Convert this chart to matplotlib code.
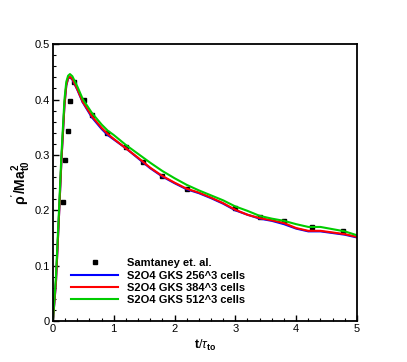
import matplotlib
matplotlib.use('agg')
import matplotlib.pyplot as plt
from matplotlib.ticker import MultipleLocator

# Samtaney et al. reference points
ref_t = [0.16, 0.20, 0.25, 0.28, 0.35, 0.51, 0.64, 0.89, 1.2, 1.48, 1.79, 2.2, 2.99, 3.4, 3.8, 4.26, 4.77]
ref_rho = [0.215, 0.290, 0.343, 0.397, 0.431, 0.399, 0.373, 0.339, 0.315, 0.287, 0.262, 0.238, 0.204, 0.188, 0.180, 0.170, 0.162]

# GKS curves
t = [0.0, 0.05, 0.1, 0.14, 0.19, 0.22, 0.25, 0.28, 0.32, 0.4, 0.49, 0.64, 0.8, 0.9, 1.0, 1.2, 1.4, 1.6,
     1.8, 2.0, 2.2, 2.4, 2.6, 2.8, 3.0, 3.2, 3.4, 3.6, 3.8, 4.0, 4.2, 4.4, 4.6, 4.8, 5.0]
rho_256 = [0.0, 0.07, 0.19, 0.29, 0.39, 0.425, 0.438, 0.440, 0.436, 0.418, 0.395, 0.368, 0.347, 0.336, 0.328,
           0.312, 0.294, 0.276, 0.261, 0.249, 0.238, 0.231, 0.222, 0.212, 0.200, 0.192, 0.185, 0.181, 0.175,
           0.167, 0.162, 0.162, 0.159, 0.156, 0.151]
rho_384 = [0.0, 0.07, 0.19, 0.29, 0.39, 0.426, 0.439, 0.441, 0.437, 0.419, 0.396, 0.370, 0.349, 0.338, 0.329,
           0.312, 0.295, 0.277, 0.262, 0.250, 0.239, 0.232, 0.223, 0.213, 0.201, 0.192, 0.186, 0.182, 0.177,
           0.168, 0.163, 0.163, 0.160, 0.157, 0.152]
rho_512 = [0.0, 0.08, 0.20, 0.30, 0.40, 0.432, 0.443, 0.446, 0.442, 0.424, 0.401, 0.376, 0.355, 0.344, 0.336,
           0.318, 0.302, 0.286, 0.271, 0.258, 0.246, 0.236, 0.227, 0.218, 0.207, 0.199, 0.190, 0.185, 0.181,
           0.175, 0.170, 0.170, 0.166, 0.162, 0.155]

plt.rcParams['font.family'] = ['Liberation Sans', 'DejaVu Sans']
plt.rcParams['mathtext.fontset'] = 'custom'
plt.rcParams['mathtext.rm'] = 'Liberation Sans'
plt.rcParams['mathtext.bf'] = 'Liberation Sans:bold'
plt.rcParams['mathtext.it'] = 'Liberation Sans:italic'

fig = plt.figure(figsize=(4.07, 3.62), dpi=100)
ax = fig.add_axes([0.130, 0.113, 0.747, 0.765])

ax.plot(ref_t, ref_rho, 's', color='black', markersize=3.5, label='Samtaney et. al.')
ax.plot(t, rho_256, color='#0000ff', lw=1.5, label='S2O4 GKS 256^3 cells')
ax.plot(t, rho_384, color='#ff0000', lw=1.5, label='S2O4 GKS 384^3 cells')
ax.plot(t, rho_512, color='#00cc00', lw=1.5, label='S2O4 GKS 512^3 cells')

ax.set_xlim(0, 5)
ax.set_ylim(0, 0.5)
ax.xaxis.set_major_locator(MultipleLocator(1))
ax.xaxis.set_minor_locator(MultipleLocator(0.2))
ax.yaxis.set_minor_locator(MultipleLocator(0.02))
ax.set_yticks([0, 0.1, 0.2, 0.3, 0.4, 0.5])
ax.set_yticklabels(['0', '0.1', '0.2', '0.3', '0.4', '0.5'])
ax.tick_params(which='both', direction='in', top=False, right=False, labelsize=8)
ax.tick_params(which='major', length=4, width=1, pad=2)
ax.tick_params(which='minor', length=2, width=0.8)
for s in ax.spines.values():
    s.set_linewidth(1.3)

ax.set_xlabel(r'$\mathbf{t}/\tau_{\mathbf{to}}$', fontsize=9, labelpad=3)
ax.set_ylabel(r"$\mathbf{\rho^{'}/Ma_{t0}^{2}}$", fontsize=10, labelpad=2)

leg = ax.legend(loc='lower left', bbox_to_anchor=(0.035, 0.03), frameon=False,
                prop={'weight': 'bold', 'size': 8}, handlelength=4.2,
                labelspacing=0.2, handletextpad=0.8, borderaxespad=0.3)

fig.savefig('out.png', dpi=100)
